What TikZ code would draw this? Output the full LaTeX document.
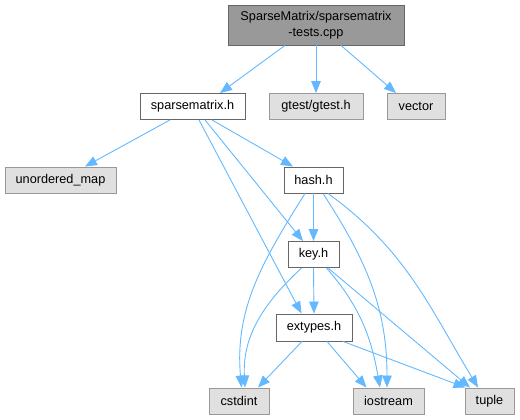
\documentclass[tikz,border=0pt]{standalone}
\usepackage{fontspec}
\setmainfont{Liberation Sans}
\usepackage{tikz}
\usetikzlibrary{arrows.meta}
\definecolor{edgeblue}{HTML}{63B8FF}
\definecolor{topfill}{HTML}{999999}
\definecolor{sysfill}{HTML}{E0E0E0}
\definecolor{darkborder}{HTML}{666666}

\begin{document}
\begin{tikzpicture}[
    x=1pt, y=1pt,
    box/.style={draw=darkborder, fill=white, line width=0.9pt, inner sep=0pt,
      minimum height=26pt, font=\fontsize{12.7}{16}\selectfont},
    topbox/.style={box, fill=topfill, minimum height=40pt, align=center},
    sysbox/.style={box, draw=topfill, fill=sysfill},
    edge/.style={draw=edgeblue, line width=0.9pt,
      -{Triangle[length=12pt, width=9.5pt]}}
]
  \useasboundingbox (0,0) rectangle (520,420);

  % --- TOP FILE ---
  \node[topbox, minimum width=176pt] (top) at (316,395) {SparseMatrix/sparsematrix\\-tests.cpp};

  % --- SECOND ROW ---
  \node[box, minimum width=105pt] (smh) at (192.5,313.5) {sparsematrix.h};
  \node[sysbox, minimum width=94pt] (gtest) at (316,313.5) {gtest/gtest.h};
  \node[sysbox, minimum width=58pt] (vector) at (416,313.5) {vector};

  % --- MIDDLE ---
  \node[sysbox, minimum width=111pt] (umap) at (60.5,240) {unordered\_map};
  \node[box, minimum width=59pt] (hash) at (313.5,240) {hash.h};
  \node[box, minimum width=51pt] (key) at (313.5,165.5) {key.h};
  \node[box, minimum width=76pt, minimum height=27pt] (ext) at (314,92.5) {extypes.h};

  % --- BOTTOM ROW ---
  \node[sysbox, minimum width=60pt] (cstdint) at (239,19) {cstdint};
  \node[sysbox, minimum width=71pt] (iostream) at (388.5,19) {iostream};
  \node[sysbox, minimum width=49pt] (tuple) at (489.5,19) {tuple};

  % --- DRAWING EDGES ---

  % From the test file
  \draw[edge] ([xshift=-31]top.south) -- ([xshift=27.5]smh.north);
  \draw[edge] (top.south) -- (gtest.north);
  \draw[edge] ([xshift=25]top.south) -- ([xshift=-20]vector.north);

  % From sparsematrix.h
  \draw[edge] ([xshift=-22.5]smh.south) -- ([xshift=24.5]umap.north);
  \draw[edge] ([xshift=19.5]smh.south) -- ([xshift=-20.5]hash.north);
  \draw[edge] ([xshift=12.5]smh.south) -- ([xshift=-10.5]key.north);
  \draw[edge] ([xshift=6.5]smh.south) -- ([xshift=-12.5]ext.north);

  % From hash.h
  \draw[edge] (hash.south) -- (key.north);
  \draw[edge] ([xshift=-8.5]hash.south) to[out=238, in=95] ([xshift=2.5]cstdint.north);
  \draw[edge] ([xshift=9.5]hash.south) to[out=-57, in=90] ([xshift=-1.5]iostream.north);
  \draw[edge] ([xshift=14.5]hash.south) to[out=-36, in=121] ([xshift=-11.5]tuple.north);

  % From key.h
  \draw[edge] (key.south) -- (ext.north);
  \draw[edge] ([xshift=-12]key.south) to[out=223, in=93] ([xshift=6]cstdint.north);
  \draw[edge] ([xshift=13]key.south) to[out=-49, in=100] ([xshift=-8.5]iostream.north);
  \draw[edge] ([xshift=14.5]key.south) -- ([xshift=-19.5]tuple.north);

  % From extypes.h
  \draw[edge] ([xshift=-12]ext.south) -- ([xshift=19]cstdint.north);
  \draw[edge] ([xshift=13]ext.south) -- ([xshift=-22]iostream.north);
  \draw[edge] ([xshift=29]ext.south) -- ([xshift=-24]tuple.north);
\end{tikzpicture}
\end{document}
